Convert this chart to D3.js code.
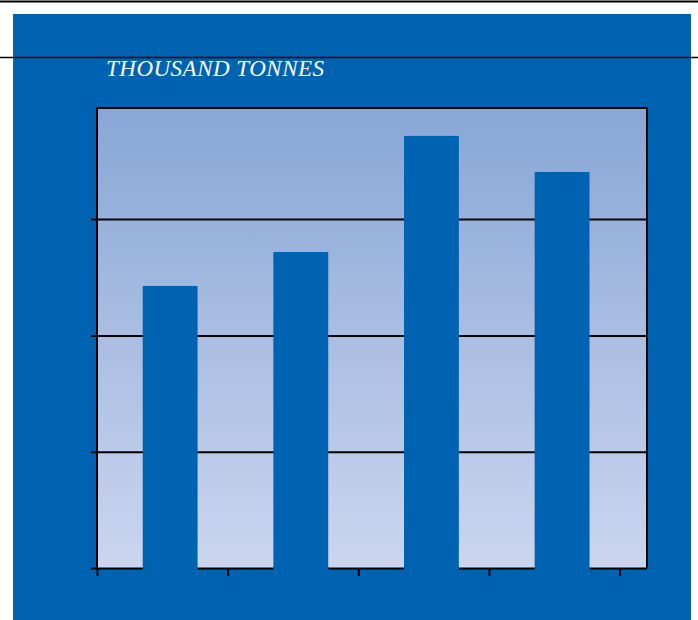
<!DOCTYPE html>
<html>
<head>
<meta charset="utf-8">
<script src="https://cdn.jsdelivr.net/npm/d3@7/dist/d3.min.js"></script>
<style>
  html, body { margin: 0; padding: 0; background: #ffffff; }
  svg { display: block; }
</style>
</head>
<body>
<svg id="chart" width="698" height="620"></svg>
<script>
// Annual volumes, thousand tonnes
const categories = ["1", "2", "3", "4"];
const values = [242.5, 271.7, 371.5, 340.5];
const gridValues = [0, 100, 200, 300];
const xTickValues = [0, 1, 2, 3, 4];
const unitLabel = "THOUSAND TONNES";

(function draw() {
  const W = 698, H = 620;
  const panelBlue = "#0063b1";
  const svg = d3.select("#chart");

  // Background panel
  svg.append("rect")
    .attr("x", 13).attr("y", 14)
    .attr("width", 678).attr("height", H - 14)
    .attr("fill", panelBlue);

  // Rules across the page
  svg.append("line")
    .attr("x1", 0).attr("x2", W).attr("y1", 1.5).attr("y2", 1.5)
    .attr("stroke", "#000").attr("stroke-width", 2);
  svg.append("line")
    .attr("x1", 0).attr("x2", W).attr("y1", 57.5).attr("y2", 57.5)
    .attr("stroke", "#000").attr("stroke-width", 1.6);

  // Unit label
  svg.append("text")
    .attr("x", 106).attr("y", 76)
    .attr("fill", "#ffffff")
    .attr("font-family", "'Liberation Serif', 'Times New Roman', serif")
    .attr("font-style", "italic")
    .attr("font-size", 23)
    .attr("letter-spacing", 0.5)
    .text(unitLabel);

  // Plot area
  const pLeft = 97, pRight = 647, pTop = 108, pBottom = 568;

  const x = d3.scaleLinear().domain([0, 4.21]).range([pLeft, pRight]);
  const y = d3.scaleLinear().domain([0, 395.5]).range([pBottom, pTop]);

  const defs = svg.append("defs");
  const grad = defs.append("linearGradient")
    .attr("id", "plotFill").attr("x1", 0).attr("y1", 0).attr("x2", 0).attr("y2", 1);
  grad.append("stop").attr("offset", "0%").attr("stop-color", "#88a6d6");
  grad.append("stop").attr("offset", "100%").attr("stop-color", "#cbd6ee");

  svg.append("rect")
    .attr("x", pLeft).attr("y", pTop)
    .attr("width", pRight - pLeft).attr("height", pBottom - pTop)
    .attr("fill", "url(#plotFill)");

  // Gridlines with short ticks on the left
  const yAxis = d3.axisLeft(y)
    .tickValues(gridValues)
    .tickSize(-(pRight - pLeft))
    .tickSizeOuter(0)
    .tickFormat("");
  const gy = svg.append("g")
    .attr("transform", `translate(${pLeft},0)`)
    .call(yAxis);
  gy.select(".domain").remove();
  gy.selectAll(".tick line")
    .attr("x1", -6)
    .attr("stroke", "#000").attr("stroke-width", 2);

  // Bottom axis
  const xAxis = d3.axisBottom(x)
    .tickValues(xTickValues)
    .tickSize(8)
    .tickSizeOuter(0)
    .tickFormat("");
  const gx = svg.append("g")
    .attr("transform", `translate(0,${pBottom})`)
    .call(xAxis);
  gx.select(".domain").remove();
  gx.selectAll(".tick line").attr("stroke", "#000").attr("stroke-width", 2);

  // Frame: left, top, right
  svg.append("path")
    .attr("d", `M${pLeft},${pBottom}V${pTop}H${pRight}V${pBottom}`)
    .attr("fill", "none")
    .attr("stroke", "#000").attr("stroke-width", 2);

  // Bars
  const barOffset = 0.56, barWidth = 0.42;
  svg.append("g").selectAll("rect")
    .data(values)
    .join("rect")
    .attr("x", (d, i) => x(i + barOffset - barWidth / 2))
    .attr("width", x(barWidth) - x(0))
    .attr("y", d => y(d))
    .attr("height", d => y(0) - y(d) + 2)
    .attr("fill", panelBlue);
})();
</script>
</body>
</html>
